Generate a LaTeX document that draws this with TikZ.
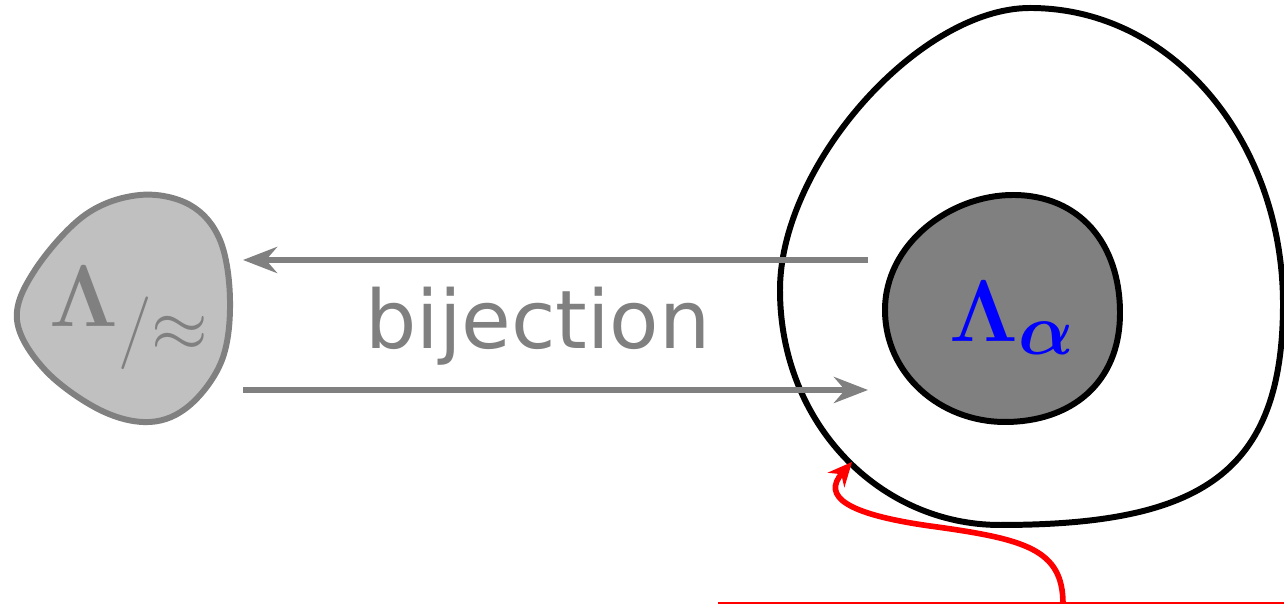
\documentclass[tikz,border=0pt]{standalone}
\usepackage{amsmath,bm}
\usepackage{fontspec}
\newfontfamily\bijfont{DejaVu Sans}
\usetikzlibrary{arrows.meta}
\definecolor{quotfill}{RGB}{192,192,192}
\definecolor{quotline}{RGB}{128,128,128}
\definecolor{alphafill}{RGB}{128,128,128}
\definecolor{alphaink}{RGB}{0,0,255}
\definecolor{pointer}{RGB}{255,0,0}

\begin{document}
\begin{tikzpicture}[
  >=Stealth,
  blob/.style={line width=1.7pt},
  bij/.style={draw=quotline, line width=1.9pt, -{Stealth[length=0.34cm, width=0.26cm]}},
  ptr/.style={draw=pointer, line width=1.6pt, -{Stealth[length=0.24cm, width=0.22cm]}},
  lab/.style={font=\fontsize{30pt}{33pt}\selectfont, inner sep=0pt},
]

  % Canvas 12.84 x 6.04, origin bottom left
  \useasboundingbox (0,0) rectangle (12.84,6.04);

  % --- Quotient set (left) ---
  \draw[blob, draw=quotline, fill=quotfill] plot[smooth cycle, tension=0.6] coordinates
    {(1.40,4.09) (1.90,3.99) (2.20,3.64) (2.30,3.04) (2.22,2.44) (1.90,1.99)
     (1.50,1.82) (1.00,1.94) (0.45,2.34) (0.17,2.84) (0.35,3.34) (0.85,3.89)};
  \node[lab, text=quotline] (quot) at (1.30,2.86) {$\bm{\Lambda}_{/\approx}$};

  % --- Outer set (right) ---
  \draw[blob, draw=black, fill=white]
    (10.30,5.96) .. controls (11.75,5.96) and (12.83,4.60) .. (12.83,3.00)
    .. controls (12.83,1.30) and (12.00,0.79) .. (10.00,0.79)
    .. controls (8.80,0.79) and (7.80,1.80) .. (7.80,3.14)
    .. controls (7.80,4.40) and (9.20,5.96) .. cycle;

  % --- Inner set Lambda_alpha ---
  \draw[blob, draw=black, fill=alphafill]
    (10.13,4.09) .. controls (10.80,4.09) and (11.20,3.60) .. (11.20,2.91)
    .. controls (11.20,2.20) and (10.70,1.82) .. (10.05,1.82)
    .. controls (9.40,1.82) and (8.85,2.30) .. (8.85,2.94)
    .. controls (8.85,3.60) and (9.50,4.09) .. cycle;
  \node[lab, text=alphaink] (alpha) at (10.13,2.86) {$\bm{\Lambda_{\alpha}}$};

  % --- Bijection arrows ---
  \coordinate (topR) at (8.68,3.44);
  \coordinate (topL) at (2.43,3.44);
  \coordinate (botL) at (2.43,2.14);
  \coordinate (botR) at (8.68,2.14);
  \draw[bij] (topR) -- (topL);
  \draw[bij] (botL) -- (botR);
  \node[font=\bijfont\fontsize{23pt}{26pt}\selectfont, text=quotline] (bijtext) at (5.38,2.78) {bijection};

  % --- Pointer from below ---
  \coordinate (boxL) at (7.18,0.01);
  \coordinate (boxR) at (12.84,0.01);
  \draw[pointer, line width=0.8pt] (boxL) -- (boxR);
  \coordinate (ptrfoot) at (10.63,0.0);
  \coordinate (ptrtip) at (8.52,1.42);
  \draw[ptr] (ptrfoot) .. controls (10.63,0.55) and (10.25,0.65) .. (9.30,0.78)
    .. controls (8.45,0.90) and (8.22,1.08) .. (ptrtip);

\end{tikzpicture}
\end{document}
